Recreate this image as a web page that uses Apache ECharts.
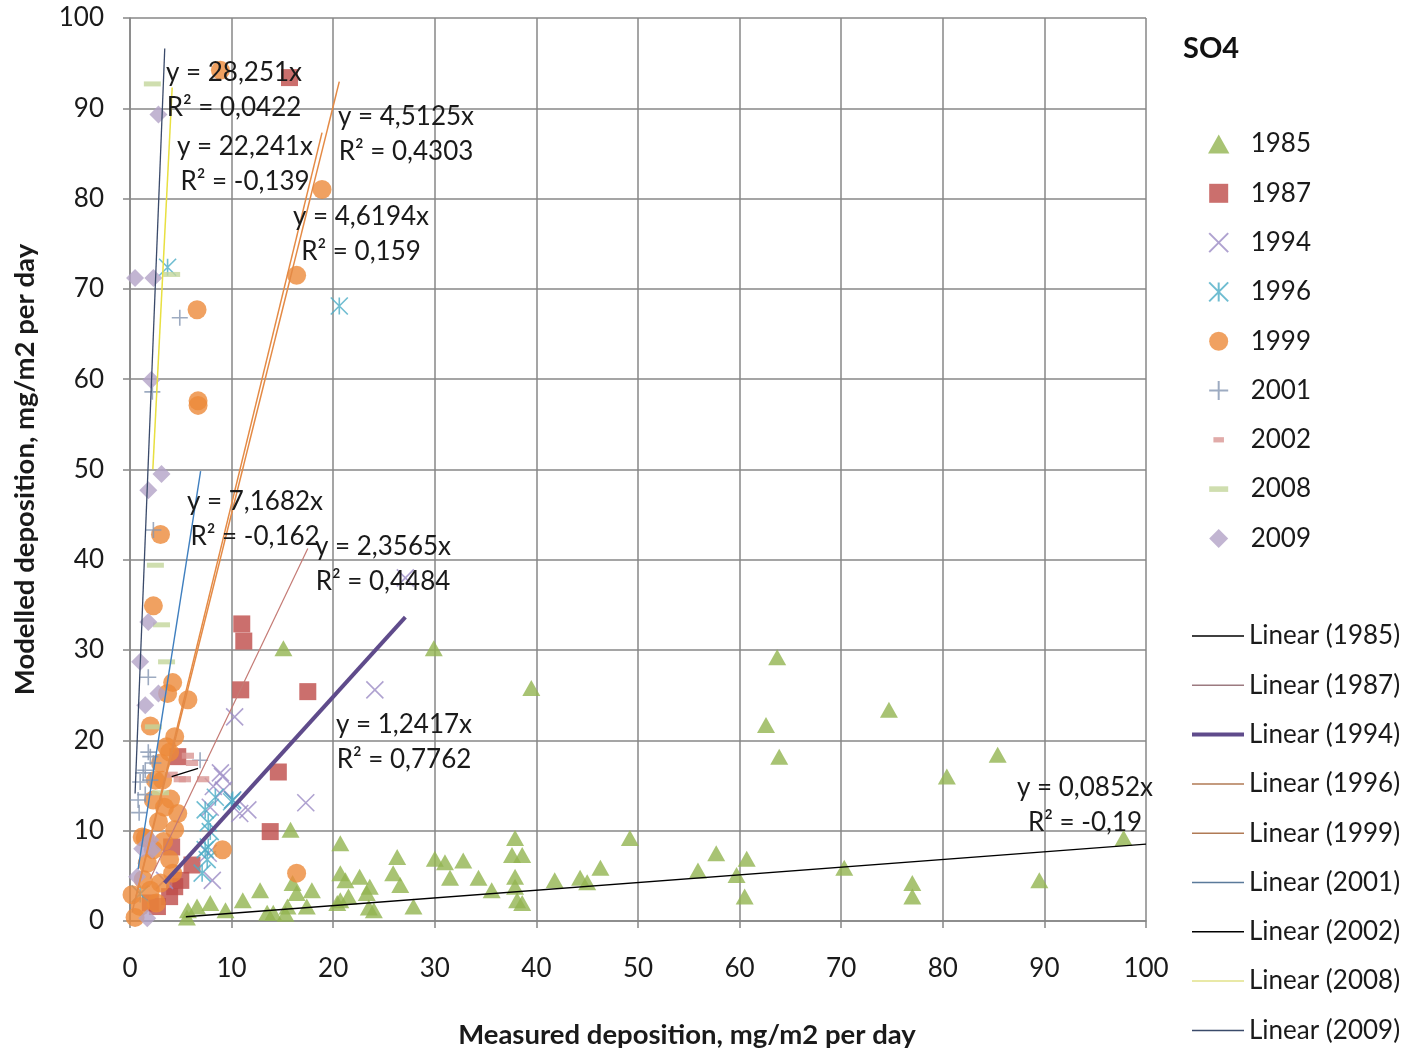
<!DOCTYPE html>
<html><head><meta charset="utf-8">
<script src="https://cdn.jsdelivr.net/npm/echarts@6/dist/echarts.min.js"></script>
<style>html,body{margin:0;padding:0;background:#fff}#c{width:1412px;height:1052px}</style>
</head><body><div id="c"></div>
<script>
// ---------- DATA ----------
const years = ['1985','1987','1994','1996','1999','2001','2002','2008','2009'];

const d1985 = [[15.1,30.2],[29.9,30.2],[39.5,25.8],[63.7,29.2],[62.6,21.7],[63.9,18.2],[74.7,23.4],[80.4,16.0],[85.4,18.4],[89.5,4.5],[97.8,9.2],[70.3,5.9],[77.0,4.2],[77.0,2.7],
 [37.9,9.2],[37.6,7.3],[38.6,7.3],[37.9,4.9],[37.9,3.8],[38.1,2.3],[38.6,2.0],
 [31.0,6.5],[32.8,6.7],[31.5,4.8],[34.3,4.8],[35.6,3.4],[41.8,4.5],[44.3,4.8],[45.0,4.3],[46.3,5.9],[49.2,9.2],[55.9,5.6],[57.7,7.5],[59.7,5.1],[60.7,6.9],[60.5,2.7],
 [15.8,10.1],[20.7,8.6],[26.3,7.1],[25.9,5.3],[26.6,4.0],[20.7,5.3],[21.2,4.5],[22.6,4.9],[23.6,3.8],[23.3,3.1],[24.0,1.2],[20.4,2.0],[21.5,2.7],[16.0,4.2],[16.4,3.1],[17.9,3.4],[17.4,1.6],[15.5,1.6],[12.8,3.4],[11.1,2.3],[13.5,0.9],[14.1,0.9],[9.4,1.2],[7.9,2.0],[6.6,1.6],[5.7,1.2],[5.6,0.4],[27.9,1.6],[20.7,2.3],[15.3,0.8],[23.5,1.5],[30.0,6.9]];
const d1987 = [[15.7,93.4],[11.0,32.9],[11.2,31.0],[10.9,25.6],[17.5,25.4],[14.6,16.5],[13.8,9.9],[4.7,18.2],[4.1,8.2],[6.1,6.2],[5.0,4.5],[4.4,3.8],[3.9,2.7],[2.7,1.6],[2.0,2.0]];
const d1994 = [[3.4,4.5],[7.7,7.5],[8.1,4.5],[7.9,12.6],[8.2,14.9],[8.9,16.4],[9.2,14.5],[10.1,13.4],[10.8,11.9],[11.6,12.3],[10.3,22.6],[17.3,13.1],[24.1,25.6],[27.1,38.0],[9.1,16.0]];
const d1996 = [[20.6,68.1],[3.7,72.4],[10.0,13.2],[7.4,12.3],[7.9,9.9],[7.7,8.2],[7.6,6.8],[7.1,5.3],[8.4,13.7],[7.7,10.9],[7.4,7.9],[10.1,13.4],[1.0,3.0]];
const d1999 = [[8.9,94.2],[18.9,81.0],[16.4,71.5],[6.6,67.7],[6.7,57.1],[6.7,57.6],[3.0,42.8],[2.3,34.9],[4.2,26.4],[5.7,24.5],[3.7,25.2],[2.0,21.6],[4.4,20.4],[3.6,19.3],[3.0,17.5],[3.2,15.6],[2.3,13.4],[4.7,11.9],[3.4,12.6],[1.2,9.3],[9.1,7.9],[2.3,7.9],[1.7,6.4],[3.9,6.8],[4.2,5.3],[3.0,4.2],[2.0,3.4],[0.2,2.9],[1.0,1.6],[0.5,0.4],[16.4,5.3],[2.5,15.6],[3.9,18.7],[1.5,9.2],[4.4,10.1],[2.8,11.0],[3.3,8.8],[1.3,4.6],[2.6,2.0],[4.0,13.5]];
const d2001 = [[4.9,66.8],[2.2,58.6],[2.3,43.3],[1.8,27.0],[6.9,17.8],[2.0,18.2],[1.3,16.4],[1.0,15.4],[0.8,13.4],[1.8,18.7],[1.5,16.7],[2.0,15.6],[2.3,17.5],[1.5,14.0],[0.9,12.0]];
const d2002 = [[5.7,18.3],[6.1,17.5],[4.9,15.7],[5.4,15.7],[7.2,15.7],[4.1,16.2]];
const d2008 = [[2.2,92.7],[4.1,71.6],[2.5,39.4],[3.1,32.8],[3.6,28.7],[2.3,21.5],[3.0,14.2]];
const d2009 = [[2.8,89.3],[0.5,71.2],[2.3,71.2],[2.1,59.9],[3.1,49.5],[1.8,47.7],[1.8,33.1],[1.0,28.7],[2.8,25.2],[1.5,23.9],[2.2,7.9],[0.7,4.9],[1.7,0.3],[2.0,9.0],[1.2,8.0]];

const trendSlopes     = [0.0852, 2.3565, 1.2417, 4.5125, 4.6194, 7.1682, 0.35, 22.241, 28.251];
const trendIntercepts = [0, 0, 0, 0, 0, 0, 14.55, 0, 0];
const trendXStart     = [5.5, 2.0, 3.4, 0.6, 0.2, 0.8, 4.1, 2.25, 0.5];
const trendXEnd       = [100, 17.5, 27.1, 20.6, 18.9, 6.95, 6.7, 4.15, 3.42];

const eqTexts = ['y = 0,0852x\nR² = -0,19','y = 2,3565x\nR² = 0,4484','y = 1,2417x\nR² = 0,7762','y = 4,5125x\nR² = 0,4303','y = 4,6194x\nR² = 0,159','y = 7,1682x\nR² = -0,162',null,'y = 22,241x\nR² = -0,139','y = 28,251x\nR² = 0,0422'];

// ---------- STYLES / LAYOUT ----------
const seriesData = [d1985,d1987,d1994,d1996,d1999,d2001,d2002,d2008,d2009];
const markers = [
  {symbol:'path://M9,0L18,16L0,16z', size:[18,16], fill:'#92B450'},
  {symbol:'path://M0,0h10v10h-10z', size:17, fill:'#BE4B48'},
  {symbol:'path://M0,0L10,10M10,0L0,10', size:17, stroke:'#9B8BC4'},
  {symbol:'path://M0,0L10,10M10,0L0,10M5,0L5,10', size:17, stroke:'#4BACC6'},
  {symbol:'circle', size:19, fill:'#EC8A3A'},
  {symbol:'path://M5,0L5,10M0,5L10,5', size:16, stroke:'#8496B2'},
  {symbol:'path://M-4,-6.5L-4,-6.5M0,0h10v5h-10zM14,11.5L14,11.5', size:22, fill:'#D99694'},
  {symbol:'path://M0,-6L0,-6M0,0h17v5h-17zM17,11L17,11', size:17, fill:'#C3D69B'},
  {symbol:'path://M5,0L10,5L5,10L0,5z', size:18, fill:'#B3A2C7'}
];
const trendStyles = [
  {color:'#000000', width:1.3},
  {color:'#C47A74', width:1.2},
  {color:'#5F4B8B', width:4},
  {color:'#E48A45', width:1.5},
  {color:'#E48A45', width:1.5},
  {color:'#3F7FBF', width:1.4},
  {color:'#000000', width:1.3},
  {color:'#E8E040', width:1.5},
  {color:'#3A4A6A', width:1.3}
];
const legendLineColors = ['#000000','#9C7A80','#5F4B8B','#B07A55','#B07A55','#5A7A9A','#000000','#E2E28A','#3A4A6A'];
const eqPos = [[1085,770],[383,529],[404,707],[406,99],[361,199],[255,484],null,[245,129],[234,55]];

const FONT = 'Lato, "Open Sans", sans-serif';
const GRID = '#878787';
const TXT = '#1a1a1a';

const series = [];
years.forEach((y,i)=>{
  const m = markers[i];
  const st = m.stroke ? {color:'rgba(0,0,0,0)', borderColor:m.stroke, borderWidth:1.6}
                      : {color:m.fill, borderWidth:0};
  series.push({name:y, type:'scatter', data:seriesData[i], symbol:m.symbol, symbolSize:m.size,
    itemStyle:st, z:2+i*0.01, silent:true, animation:false});
});
years.forEach((y,i)=>{
  const a = trendXStart[i], b = trendXEnd[i];
  series.push({name:'Linear ('+y+')', type:'line', symbol:'none', silent:true, animation:false, z:5,
    itemStyle:{color:trendStyles[i].color},
    data:[[a, trendSlopes[i]*a + trendIntercepts[i]],[b, trendSlopes[i]*b + trendIntercepts[i]]],
    lineStyle:{color:trendStyles[i].color, width:trendStyles[i].width}});
});

const graphics = [];
eqTexts.forEach((t,i)=>{
  if(!t) return;
  graphics.push({type:'text', x:eqPos[i][0], y:eqPos[i][1], z:100,
    style:{text:t, fill:TXT, font:'26px '+FONT, textAlign:'center', textVerticalAlign:'top', lineHeight:35}});
});

const chart = echarts.init(document.getElementById('c'), null, {renderer:'canvas'});
chart.setOption({
  backgroundColor:'#ffffff',
  animation:false,
  title:{text:'SO4', left:1183, top:34, padding:0, textStyle:{fontFamily:FONT, fontSize:29, fontWeight:'bold', color:'#111'}},
  grid:{left:130, right:266, top:18, bottom:131, containLabel:false, outerBoundsMode:'none'},
  legend:[
    {data:years, orient:'vertical', left:1208, top:129, padding:0, itemWidth:54, itemHeight:19, itemGap:19.3,
     selectedMode:false, textStyle:{fontFamily:FONT, fontSize:26, color:TXT, lineHeight:30}},
    {data:years.map((y,i)=>({name:'Linear ('+y+')',
       icon: i===2 ? 'path://M0,0h52v4h-52z' : 'path://M0,0h52v1.5h-52z',
       itemStyle:{color:legendLineColors[i], borderWidth:0}})),
     orient:'vertical', left:1192, top:621, padding:0, itemWidth:52, itemHeight:14, itemGap:19.3,
     selectedMode:false, textStyle:{fontFamily:FONT, fontSize:26, color:TXT, lineHeight:30}}
  ],
  xAxis:{type:'value', min:0, max:100, interval:10,
    axisLine:{show:true, onZero:false, lineStyle:{color:GRID, width:1.5}},
    axisTick:{show:true, length:7, lineStyle:{color:GRID, width:1.5}},
    splitLine:{show:true, lineStyle:{color:GRID, width:1.5}},
    axisLabel:{fontFamily:FONT, fontSize:26, color:TXT, margin:35},
    name:'Measured deposition, mg/m2 per day', nameLocation:'middle', nameGap:100,
    nameTextStyle:{fontFamily:FONT, fontSize:27.5, fontWeight:'bold', color:TXT, padding:[0,0,0,98]}},
  yAxis:{type:'value', min:0, max:100, interval:10,
    axisLine:{show:true, onZero:false, lineStyle:{color:GRID, width:1.5}},
    axisTick:{show:true, length:7, lineStyle:{color:GRID, width:1.5}},
    splitLine:{show:true, lineStyle:{color:GRID, width:1.5}},
    axisLabel:{fontFamily:FONT, fontSize:26, color:TXT, margin:26},
    name:'Modelled deposition, mg/m2 per day', nameLocation:'middle', nameGap:91,
    nameTextStyle:{fontFamily:FONT, fontSize:27.5, fontWeight:'bold', color:TXT}},
  series:series,
  graphic:graphics
});
</script></body></html>
